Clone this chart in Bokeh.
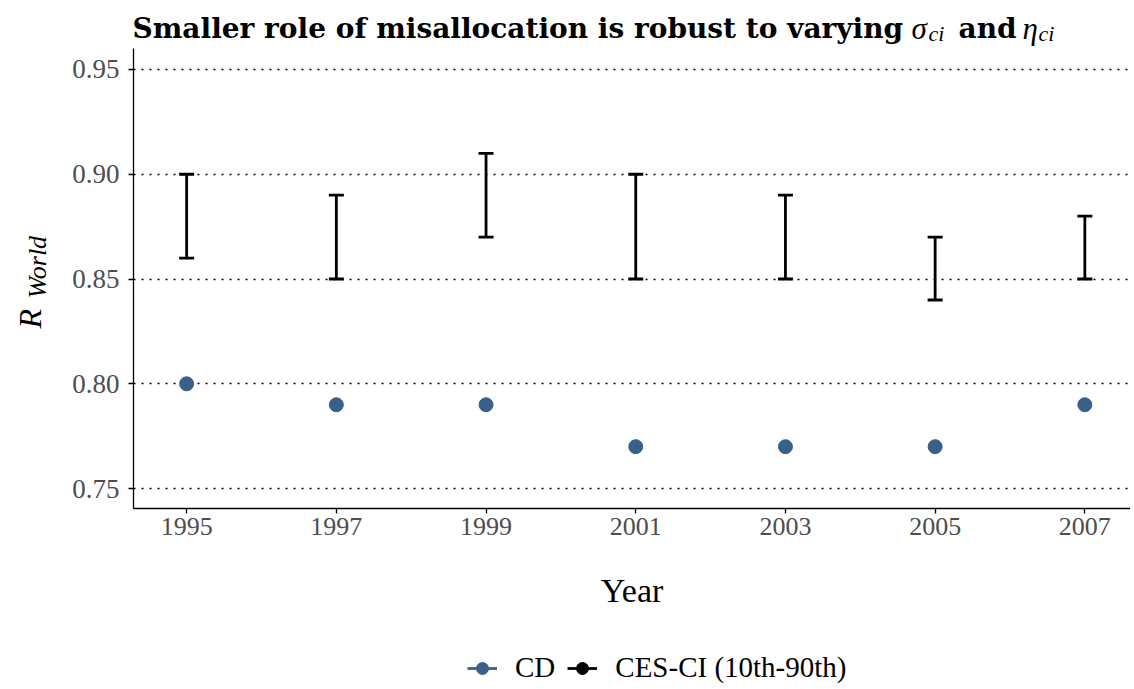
import math
from bokeh.plotting import figure
from bokeh.layouts import column, row
from bokeh.models import (ColumnDataSource, Range1d, FixedTicker, Legend, LegendItem,
                          PrintfTickFormatter)
from bokeh.core.properties import value
from bokeh.embed import file_html
from bokeh.resources import INLINE

years = [1995, 1997, 1999, 2001, 2003, 2005, 2007]
cd_values = [0.80, 0.79, 0.79, 0.77, 0.77, 0.77, 0.79]
ces_lo = [0.86, 0.85, 0.87, 0.85, 0.85, 0.84, 0.85]
ces_hi = [0.90, 0.89, 0.91, 0.90, 0.89, 0.87, 0.88]
y_ticks = [0.75, 0.80, 0.85, 0.90, 0.95]

FONT = "Liberation Serif"
TFONT = "DejaVu Serif"
BLUE = "#386089"
NAN = float("nan")

W_TOTAL = 1130
H_TITLE = 48
H_MAIN = 592
H_LEG = 46
W_YLAB = 60
B_BOTTOM = 132


def blank(w, h, bottom=0):
    f = figure(width=w, height=h, output_backend="svg", toolbar_location=None,
               x_range=Range1d(0, w), y_range=Range1d(0, h - bottom),
               x_axis_location=None, y_axis_location=None,
               min_border_left=0, min_border_right=0, min_border_top=0, min_border_bottom=bottom)
    f.outline_line_color = None
    f.grid.visible = False
    return f


def txt(fig, text, x, y, size, font=FONT, style="italic", angle=0.0):
    fig.text(x=[x], y=[y], text=[text], text_font=value(font), text_font_size=value(size),
             text_font_style=style, angle=angle, text_color="black",
             text_baseline="alphabetic", text_align="left")


# ---- title strip ----
tf = blank(W_TOTAL, H_TITLE)
txt(tf, "Smaller role of misallocation is robust to varying", 132, 20, "28px", font=TFONT, style="bold")
txt(tf, "σ", 911, 20, "31px")
txt(tf, "ci", 928, 15, "22px")
txt(tf, "and", 958, 20, "28px", font=TFONT, style="bold")
txt(tf, "η", 1022, 20, "31px")
txt(tf, "ci", 1038, 15, "22px")

# ---- y label strip (frame aligned with the main plot frame) ----
yf = blank(W_YLAB, H_MAIN, bottom=B_BOTTOM)
txt(yf, "R", 29, 180, "32px", angle=math.pi / 2)
txt(yf, "World", 37, 210, "26px", angle=math.pi / 2)

# ---- main plot ----
p = figure(width=W_TOTAL - W_YLAB, height=H_MAIN, output_backend="svg", toolbar_location=None,
           x_range=Range1d(1994.29, 2007.61), y_range=Range1d(0.7405, 0.96),
           min_border_left=73, min_border_right=0, min_border_top=0, min_border_bottom=B_BOTTOM)
p.outline_line_color = None
p.background_fill_color = "white"

src = ColumnDataSource(dict(x=years, cd=cd_values, lo=ces_lo, hi=ces_hi))

p.xgrid.grid_line_color = None
p.ygrid.grid_line_color = "black"
p.ygrid.grid_line_dash = "2 6"
p.ygrid.grid_line_width = 1.3

p.segment(x0="x", y0="lo", x1="x", y1="hi", source=src, line_color="black", line_width=2.8)
p.scatter(x="x", y="lo", source=src, marker="dash", size=15, line_color="black", line_width=2.8)
p.scatter(x="x", y="hi", source=src, marker="dash", size=15, line_color="black", line_width=2.8)
p.scatter(x="x", y="cd", source=src, marker="circle", size=14, fill_color=BLUE, line_color=BLUE)

for ax in (p.xaxis[0], p.yaxis[0]):
    ax.axis_line_color = "black"
    ax.axis_line_width = 1.3
    ax.major_tick_line_color = "black"
    ax.major_tick_line_width = 1.3
    ax.major_tick_out = 5
    ax.major_tick_in = 0
    ax.minor_tick_line_color = None
    ax.major_label_text_font = FONT
    ax.major_label_text_font_size = "26px"
    ax.major_label_text_color = "#4d4d4d"

p.yaxis.major_label_text_font_size = "27px"
p.xaxis.major_label_standoff = 4
p.yaxis.major_label_standoff = 9
p.xaxis.ticker = FixedTicker(ticks=years)
p.yaxis.ticker = FixedTicker(ticks=y_ticks)
p.yaxis.formatter = PrintfTickFormatter(format="%.2f")
p.xaxis.formatter = PrintfTickFormatter(format="%d")
p.xaxis.axis_label = "Year"
p.xaxis.axis_label_text_font = FONT
p.xaxis.axis_label_text_font_style = "normal"
p.xaxis.axis_label_text_color = "black"
p.xaxis.axis_label_text_font_size = "34px"
p.xaxis.axis_label_standoff = 34

# ---- legend strip ----
lf = blank(W_TOTAL, H_LEG)
proxy = ColumnDataSource(dict(x=[NAN], y=[NAN]))
cd_line = lf.line(x="x", y="y", source=proxy, line_color=BLUE, line_width=2.8)
cd_dot = lf.scatter(x="x", y="y", source=proxy, marker="circle", fill_color=BLUE, line_color=BLUE)
ces_line = lf.line(x="x", y="y", source=proxy, line_color="black", line_width=2.8)
ces_dot = lf.scatter(x="x", y="y", source=proxy, marker="circle", fill_color="black", line_color="black")

legend = Legend(items=[LegendItem(label="CD", renderers=[cd_line, cd_dot], index=0),
                       LegendItem(label="CES-CI (10th-90th)", renderers=[ces_line, ces_dot], index=0)],
                orientation="horizontal", location=(467, 2))
legend.label_text_font = FONT
legend.label_text_font_size = "29px"
legend.label_text_color = "black"
legend.border_line_color = None
legend.background_fill_alpha = 0
legend.glyph_width = 30
legend.glyph_height = 32
legend.spacing = 12
legend.label_standoff = 18
legend.margin = 0
legend.padding = 0
lf.add_layout(legend)

layout = column(tf, row(yf, p), lf)
open("out.html", "w").write(file_html(layout, INLINE))
